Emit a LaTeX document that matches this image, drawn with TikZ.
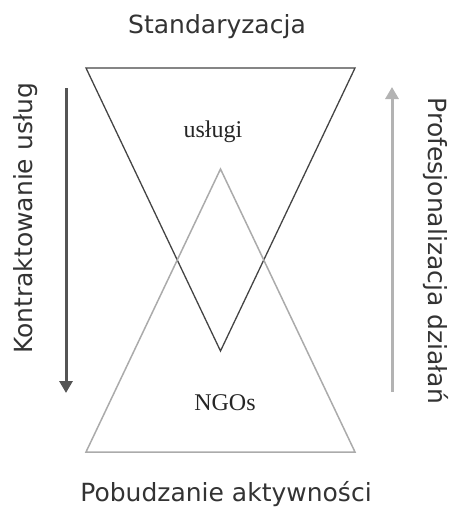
\documentclass[tikz,border=0pt]{standalone}
\usepackage{fontspec}
\setmainfont{DejaVu Sans}
\newfontfamily\serifface{Liberation Serif}
\usetikzlibrary{arrows.meta}
\definecolor{darkline}{HTML}{444444}
\definecolor{lightline}{HTML}{ABABAB}
\definecolor{labeltext}{HTML}{333333}
\definecolor{darkarrow}{HTML}{555555}
\definecolor{lightarrow}{HTML}{B3B3B3}
\begin{document}
\begin{tikzpicture}[x=1pt,y=-1pt,
  axislabel/.style={font=\fontsize{25}{30}\selectfont, text=labeltext, inner sep=0pt, anchor=base},
  innerlabel/.style={font=\serifface\fontsize{24}{28}\selectfont, text=black!85, inner sep=0pt, anchor=base},
  flow/.style={line width=3pt, -{Triangle[width=13pt,length=12pt]}},
]
\useasboundingbox (0,0) rectangle (455,509);

% funnel pointing down
\coordinate (ta) at (86,68);
\coordinate (tb) at (355,68);
\coordinate (tc) at (220.5,351);
\draw[darkline, line width=1.3pt, line join=miter] (ta) -- (tb) -- (tc) -- cycle;

% triangle pointing up
\coordinate (ba) at (86,452);
\coordinate (bb) at (355,452);
\coordinate (bc) at (220.5,169);
\draw[lightline, line width=1.5pt, line join=miter] (ba) -- (bb) -- (bc) -- cycle;

% texts
\node[axislabel] (top) at (217,33) {Standaryzacja};
\node[axislabel] (bottom) at (226,501) {Pobudzanie aktywności};
\node[axislabel, rotate=90] (left) at (32,218.5) {Kontraktowanie usług};
\node[axislabel, rotate=-90] (right) at (428,251) {Profesjonalizacja działań};
\node[innerlabel] (uslugi) at (213,137) {usługi};
\node[innerlabel] (ngos) at (225,410) {NGOs};

% direction arrows
\coordinate (l1) at (66,88);
\coordinate (l2) at (66,393);
\coordinate (r1) at (392,392);
\coordinate (r2) at (392,87);
\draw[flow, darkarrow] (l1) -- (l2);
\draw[flow, lightarrow] (r1) -- (r2);
\end{tikzpicture}
\end{document}
